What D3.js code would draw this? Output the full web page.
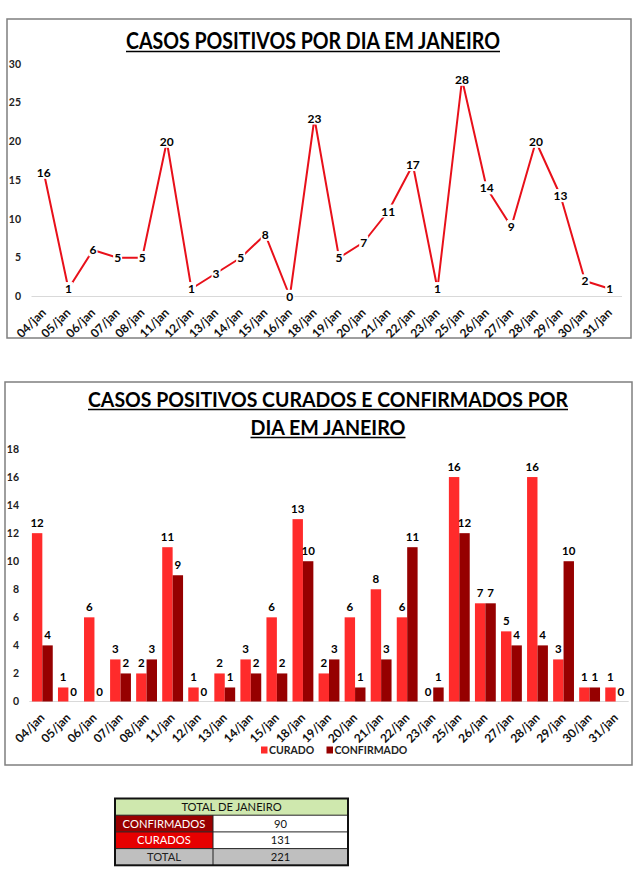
<!DOCTYPE html>
<html>
<head>
<meta charset="utf-8">
<script src="https://cdnjs.cloudflare.com/ajax/libs/d3/7.8.5/d3.min.js"></script>
<style>
  body { margin: 0; background: #fff; }
  svg { display: block; }
  text { font-family: Lato, "Open Sans", sans-serif; }
</style>
</head>
<body>
<svg id="chart" width="640" height="886"></svg>
<script>
// ---- data ----
const dias = ["04/jan", "05/jan", "06/jan", "07/jan", "08/jan", "11/jan", "12/jan", "13/jan",
  "14/jan", "15/jan", "16/jan", "18/jan", "19/jan", "20/jan", "21/jan", "22/jan", "23/jan",
  "25/jan", "26/jan", "27/jan", "28/jan", "29/jan", "30/jan", "31/jan"];
const casos = [16, 1, 6, 5, 5, 20, 1, 3, 5, 8, 0, 23, 5, 7, 11, 17, 1, 28, 14, 9, 20, 13, 2, 1];
const ticksLinha = [0, 5, 10, 15, 20, 25, 30];

const diasBarras = ["04/jan", "05/jan", "06/jan", "07/jan", "08/jan", "11/jan", "12/jan", "13/jan",
  "14/jan", "15/jan", "18/jan", "19/jan", "20/jan", "21/jan", "22/jan", "23/jan",
  "25/jan", "26/jan", "27/jan", "28/jan", "29/jan", "30/jan", "31/jan"];
const curado = [12, 1, 6, 3, 2, 11, 1, 2, 3, 6, 13, 2, 6, 8, 6, 0, 16, 7, 5, 16, 3, 1, 1];
const confirmado = [4, 0, 0, 2, 3, 9, 0, 1, 2, 2, 10, 3, 1, 3, 11, 1, 12, 7, 4, 4, 10, 1, 0];
const series = ["CURADO", "CONFIRMADO"];
const ticksBarras = [0, 2, 4, 6, 8, 10, 12, 14, 16, 18];

const tabelaTitulo = "TOTAL DE JANEIRO";
const tabelaRotulos = ["CONFIRMADOS", "CURADOS", "TOTAL"];
const tabelaValores = [90, 131, 221];

// ---- styles ----
const RED_LINE = "#e8101a";
const RED = "#ff2b2b";
const DARK = "#960000";
const GRID = "#d9d9d9";
const FRAME = "#7f7f7f";

const svg = d3.select("#chart");

function frame(x, y, w, h) {
  svg.append("rect")
    .attr("x", x).attr("y", y).attr("width", w).attr("height", h)
    .attr("fill", "#fff").attr("stroke", FRAME).attr("stroke-width", 1.5);
}

// underlined bold title, width forced to match the picture
function title(text, cx, baseline, size, width) {
  svg.append("text")
    .attr("x", cx).attr("y", baseline)
    .attr("text-anchor", "middle")
    .attr("font-size", size).attr("font-weight", 700)
    .attr("fill", "#000")
    .attr("textLength", width).attr("lengthAdjust", "spacingAndGlyphs")
    .text(text);
  svg.append("line")
    .attr("x1", cx - width / 2).attr("x2", cx + width / 2)
    .attr("y1", baseline + 2.5).attr("y2", baseline + 2.5)
    .attr("stroke", "#000").attr("stroke-width", 1.4);
}

function yLabels(g, y, ticks, x) {
  g.selectAll(".ytick").data(ticks).enter().append("text")
    .attr("class", "ytick")
    .attr("x", x).attr("y", d => y(d)).attr("dy", "0.35em")
    .attr("text-anchor", "end")
    .attr("font-size", 10.5).attr("font-weight", 700).attr("fill", "#222")
    .text(d => d);
}

function xLabels(g, positions, labels, y0) {
  g.selectAll(".xtick").data(labels).enter().append("text")
    .attr("class", "xtick")
    .attr("transform", (d, i) => `translate(${positions[i] + 3},${y0 + 17}) rotate(-45)`)
    .attr("text-anchor", "end")
    .attr("font-size", 12).attr("font-weight", 700).attr("fill", "#111")
    .text(d => d);
}

// ================= LINE CHART =================
frame(7, 19, 624, 319);
title("CASOS POSITIVOS POR DIA EM JANEIRO", 313, 49, 22, 374);

const x1 = d3.scalePoint().domain(dias).range([31.5, 622]).padding(0.5);
const y1 = d3.scaleLinear().domain([0, 30]).range([296.5, 64]);
const g1 = svg.append("g");

g1.append("line")
  .attr("x1", 31.5).attr("x2", 622)
  .attr("y1", y1(0)).attr("y2", y1(0))
  .attr("stroke", GRID).attr("stroke-width", 1);

yLabels(g1, y1, ticksLinha, 21);

g1.append("path")
  .datum(casos)
  .attr("fill", "none")
  .attr("stroke", RED_LINE)
  .attr("stroke-width", 2)
  .attr("stroke-linejoin", "round")
  .attr("d", d3.line().x((d, i) => x1(dias[i])).y(d => y1(d)));

const lab = g1.selectAll(".pt").data(casos).enter().append("g")
  .attr("class", "pt")
  .attr("transform", (d, i) => `translate(${x1(dias[i])},${y1(d)})`);
lab.append("rect");
lab.append("text")
  .attr("text-anchor", "middle").attr("dy", "0.36em")
  .attr("font-size", 12).attr("font-weight", 700).attr("fill", "#000")
  .text(d => d);
lab.each(function () {
  const b = d3.select(this).select("text").node().getBBox();
  d3.select(this).select("rect")
    .attr("x", b.x - 1).attr("y", b.y + 1).attr("width", b.width + 2).attr("height", b.height - 2)
    .attr("fill", "#fff");
});

xLabels(g1, dias.map(d => x1(d)), dias, y1(0));

// ================= BAR CHART =================
frame(5, 382, 627, 383);
title("CASOS POSITIVOS CURADOS E CONFIRMADOS POR", 328, 407, 20, 480);
title("DIA EM JANEIRO", 328, 435, 20, 155);

const x2 = d3.scaleBand().domain(diasBarras).range([29.3, 628.7]).paddingInner(0.2).paddingOuter(0.1);
const xs = d3.scaleBand().domain(series).range([0, x2.bandwidth()]);
const y2 = d3.scaleLinear().domain([0, 18]).range([701.5, 449]);
const g2 = svg.append("g");

g2.append("line")
  .attr("x1", 29.3).attr("x2", 628.7)
  .attr("y1", y2(0)).attr("y2", y2(0))
  .attr("stroke", GRID).attr("stroke-width", 1);

yLabels(g2, y2, ticksBarras, 19);

const barData = diasBarras.flatMap((d, i) => [
  { dia: d, serie: "CURADO", v: curado[i] },
  { dia: d, serie: "CONFIRMADO", v: confirmado[i] }
]);
const cor = d3.scaleOrdinal().domain(series).range([RED, DARK]);

g2.selectAll(".bar").data(barData).enter().append("rect")
  .attr("class", "bar")
  .attr("x", d => x2(d.dia) + xs(d.serie))
  .attr("y", d => y2(d.v))
  .attr("width", xs.bandwidth())
  .attr("height", d => y2(0) - y2(d.v))
  .attr("fill", d => cor(d.serie));

g2.selectAll(".blab").data(barData).enter().append("text")
  .attr("class", "blab")
  .attr("x", d => x2(d.dia) + xs(d.serie) + xs.bandwidth() / 2)
  .attr("y", d => y2(d.v) - 6)
  .attr("text-anchor", "middle")
  .attr("font-size", 11.5).attr("font-weight", 700).attr("fill", "#000")
  .text(d => d.v);

xLabels(g2, diasBarras.map(d => x2(d) + x2.bandwidth() / 2), diasBarras, y2(0));

// legend
const leg = svg.append("g").attr("transform", "translate(261,750)");
const legX = [0, 65.5];
series.forEach((s, i) => {
  const it = leg.append("g").attr("transform", `translate(${legX[i]},0)`);
  it.append("rect").attr("x", 0).attr("y", -3.5).attr("width", 6.5).attr("height", 7).attr("fill", cor(s));
  it.append("text").attr("x", 8).attr("dy", "0.35em")
    .attr("font-size", 10.5).attr("font-weight", 700).attr("fill", "#222").text(s);
});

// ================= TABLE =================
const tx = 115, tw = 233, colSplit = 98, rowH = 16.7, ty = 798.5;
const tab = svg.append("g");
const rowFill = ["#990000", "#e60000", "#bfbfbf"];
const rowText = ["#fff", "#fff", "#222"];
const valFill = ["#fff", "#fff", "#bfbfbf"];
const TFS = 11.2;

tab.append("rect").attr("x", tx).attr("y", ty).attr("width", tw).attr("height", rowH)
  .attr("fill", "#cfe8ae");
tab.append("text").attr("x", tx + tw / 2).attr("y", ty + rowH / 2).attr("dy", "0.36em")
  .attr("text-anchor", "middle").attr("font-size", TFS).attr("fill", "#111").text(tabelaTitulo);

tabelaRotulos.forEach((r, i) => {
  const yy = ty + rowH * (i + 1);
  tab.append("rect").attr("x", tx).attr("y", yy).attr("width", colSplit).attr("height", rowH)
    .attr("fill", rowFill[i]);
  tab.append("rect").attr("x", tx + colSplit).attr("y", yy).attr("width", tw - colSplit).attr("height", rowH)
    .attr("fill", valFill[i]);
  tab.append("text").attr("x", tx + colSplit / 2).attr("y", yy + rowH / 2).attr("dy", "0.36em")
    .attr("text-anchor", "middle").attr("font-size", TFS).attr("fill", rowText[i]).text(r);
  tab.append("text").attr("x", tx + colSplit + (tw - colSplit) / 2).attr("y", yy + rowH / 2).attr("dy", "0.36em")
    .attr("text-anchor", "middle").attr("font-size", TFS).attr("fill", "#111").text(tabelaValores[i]);
  tab.append("line").attr("x1", tx).attr("x2", tx + tw).attr("y1", yy).attr("y2", yy)
    .attr("stroke", "#222").attr("stroke-width", 1);
});
tab.append("line").attr("x1", tx + colSplit).attr("x2", tx + colSplit)
  .attr("y1", ty + rowH).attr("y2", ty + rowH * 4).attr("stroke", "#222").attr("stroke-width", 1);
tab.append("rect").attr("x", tx).attr("y", ty).attr("width", tw).attr("height", rowH * 4)
  .attr("fill", "none").attr("stroke", "#111").attr("stroke-width", 2);
</script>
</body>
</html>
